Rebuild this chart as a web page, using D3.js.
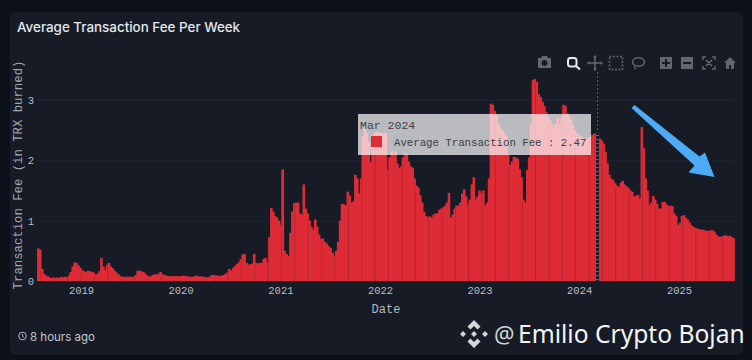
<!DOCTYPE html>
<html>
<head>
<meta charset="utf-8">
<title>Average Transaction Fee Per Week</title>
<script src="https://cdn.jsdelivr.net/npm/d3@7"></script>
<style>
    html, body { margin: 0; padding: 0; background: #0b1019; }
    svg { display: block; }
    .mono { font-family: "Liberation Mono", "DejaVu Sans Mono", monospace; }
    .sans { font-family: Inter, "Noto Sans", sans-serif; }
    .axis .domain { display: none; }
    .axis text { font-family: "Liberation Mono", monospace; font-size: 10.5px; fill: #bcbfc4; }
    .y-axis line { stroke: #1f2430; stroke-width: 1; }
    .x-axis line { display: none; }
</style>
</head>
<body>
<svg width="752" height="360"></svg>
<script>
// weekly values, one list per calendar year
const fee2018 = [.54,.52,.2,.12,.09,.08,.06,.05,.06,.05,.06,.05,.07,.06,.07,.06,.09,.15,.24,.31,.3,.26,.22];
const fee2019 = [.18,.16,.15,.17,.16,.15,.14,.1,.12,.16,.38,.24,.18,.27,.3,.24,.21,.17,.14,.11,.08,.07,.07,.07,.07,.07,.07,.07,.1,.17,.17,.16,.15,.12,.09,.07,.08,.1,.11,.11,.12,.15,.11,.1,.09,.08,.08,.08,.08,.08,.08,.08];
const fee2020 = [.08,.09,.08,.08,.07,.07,.07,.08,.09,.07,.08,.07,.07,.06,.06,.08,.1,.1,.09,.09,.08,.09,.1,.12,.14,.2,.17,.22,.25,.28,.31,.36,.44,.45,.3,.27,.28,.29,.45,.3,.29,.3,.3,.37,.38,.3,.73,1.21,1.15,1.08,1.05,1];
const fee2021 = [.93,1.85,.5,.45,.42,.8,1.15,1.29,1.3,1.3,1.12,1.1,1.6,1.2,1.12,1,.9,.85,1.02,.9,.77,.7,.7,.65,.62,.58,.55,.47,.42,.5,.65,1,1.28,1.27,1.25,1.48,1.42,1.3,1.32,1.76,1.7,1.45,1.7,2.4,2.58,2.45,2.3,1.97,2.4,2.45,2.47,2.47,2.46];
const fee2022 = [2.45,2.45,2.45,1.85,2.05,2.15,2.1,2.15,1.95,1.87,1.9,2.05,2.12,2.1,1.98,1.9,1.88,1.7,1.58,1.55,1.42,1.3,1.15,1.08,1.05,1.07,1.05,1.1,1.12,1.12,1.18,1.2,1.22,1.25,1.3,1.46,1.05,1.1,1.2,1.25,1.25,1.3,1.45,1.52,1.4,1.25,1.35,1.6,1.72,1.35,1.4,1.5];
const fee2023 = [1.45,1.5,1.25,1.3,1.7,2.94,2.92,2.82,2.75,2.6,2.55,2.5,2.45,2.4,2.1,1.92,1.98,2.06,2.05,2.03,1.85,1.72,1.35,1.3,1.84,2.05,2.6,3.33,3.35,3.3,3.1,3.05,2.97,2.9,2.8,2.72,2.67,2.6,2.56,2.6,2.7,2.6,2.72,2.92,2.9,2.78,2.72,2.67,2.58,2.5,2.45,2.42];
const fee2024 = [2.4,2.38,2.35,2.36,2.38,2.4,2.42,2.44,2.45,2.47,2.36,2.33,2.28,2.14,1.95,1.76,1.7,1.67,1.62,1.58,1.56,1.63,1.66,1.6,1.57,1.54,1.5,1.48,1.4,1.41,1.43,1.37,2.55,2.2,1.7,1.5,1.25,1.3,1.41,1.35,1.28,1.2,1.2,1.31,1.31,1.27,1.24,1.25,1.24,1.12,1.08,.93];
const fee2025 = [.96,1.08,1.09,1.05,1.02,.97,.92,.9,.88,.87,.86,.85,.85,.84,.83,.83,.84,.84,.82,.77,.74,.73,.74,.75,.76,.74,.75,.73,.71];

const yearTicks = [2019, 2020, 2021, 2022, 2023, 2024, 2025];
const feeTicks = [0, 1, 2, 3];
const firstWeek = new Date(2018, 6, 24);
const hoverLabel = 'Mar 2024';
const seriesName = 'Average Transaction Fee';

const fees = [].concat(fee2018, fee2019, fee2020, fee2021, fee2022, fee2023, fee2024, fee2025);
const data = fees.map((fee, i) => ({ date: d3.timeDay.offset(firstWeek, i * 7), fee }));
const hoverIndex = fee2018.length + fee2019.length + fee2020.length + fee2021.length
    + fee2022.length + fee2023.length + 9;

const svg = d3.select('svg');
const red = '#de2c37';

// card behind everything
svg.append('rect')
    .attr('x', 10).attr('y', 12)
    .attr('width', 733).attr('height', 343)
    .attr('rx', 6)
    .attr('fill', '#161b26');

svg.append('text')
    .attr('class', 'sans')
    .attr('x', 17).attr('y', 32)
    .attr('fill', '#e4e6ea')
    .attr('font-size', 13.4)
    .attr('font-weight', 500)
    .text('Average Transaction Fee Per Week');

const xScale = d3.scaleTime()
    .domain([new Date(2019, 0, 1), new Date(2025, 0, 1)])
    .range([81, 679]);

const yScale = d3.scaleLinear()
    .domain([0, 3])
    .range([281, 100]);

const barWidth = xScale(data[1].date) - xScale(data[0].date);

const yAxis = d3.axisLeft(yScale)
    .tickValues(feeTicks)
    .tickFormat(d3.format('d'))
    .tickSize(-698)
    .tickPadding(3);

svg.append('g')
    .attr('class', 'axis y-axis')
    .attr('transform', 'translate(37, 0)')
    .call(yAxis);

const xAxis = d3.axisBottom(xScale)
    .tickValues(yearTicks.map(y => new Date(y, 0, 1)))
    .tickFormat(d3.timeFormat('%Y'))
    .tickSize(0)
    .tickPadding(6);

svg.append('g')
    .attr('class', 'axis x-axis')
    .attr('transform', 'translate(0, 281)')
    .call(xAxis);

svg.selectAll('.bar').data(data)
    .enter().append('rect')
        .attr('class', 'bar')
        .attr('x', d => xScale(d.date))
        .attr('y', d => yScale(d.fee))
        .attr('width', barWidth + 0.7)
        .attr('height', d => yScale(0) - yScale(d.fee))
        .attr('fill', red);

// the darker seams that show up inside the bars
svg.selectAll('.seam').data(data.filter((d, i) => i % 7 === 2))
    .enter().append('line')
        .attr('class', 'seam')
        .attr('x1', d => xScale(d.date))
        .attr('x2', d => xScale(d.date))
        .attr('y1', d => yScale(d.fee) + 2)
        .attr('y2', yScale(0))
        .attr('stroke', '#b0272f')
        .attr('stroke-width', 0.9);

// hover spike
const hoverX = xScale(data[hoverIndex].date) + barWidth / 2;
svg.append('line')
    .attr('x1', hoverX).attr('x2', hoverX)
    .attr('y1', 72).attr('y2', yScale(data[hoverIndex].fee))
    .attr('stroke', '#555a64')
    .attr('stroke-width', 1.2)
    .attr('stroke-dasharray', '2,2');
svg.append('line')
    .attr('x1', hoverX).attr('x2', hoverX)
    .attr('y1', yScale(data[hoverIndex].fee)).attr('y2', yScale(0))
    .attr('stroke', '#1b1e2a')
    .attr('stroke-width', 3)
    .attr('stroke-dasharray', '3,1');

// axis titles
svg.append('text')
    .attr('class', 'mono')
    .attr('transform', 'translate(22, 175) rotate(-90)')
    .attr('text-anchor', 'middle')
    .attr('font-size', 12.3)
    .attr('fill', '#a4a7ad')
    .text('Transaction Fee (in TRX burned)');

svg.append('text')
    .attr('class', 'mono')
    .attr('x', 386).attr('y', 313)
    .attr('text-anchor', 'middle')
    .attr('font-size', 12)
    .attr('fill', '#b4b7bc')
    .text('Date');

// tooltip
svg.append('rect')
    .attr('x', 358).attr('y', 114)
    .attr('width', 233).attr('height', 41)
    .attr('fill', '#fff')
    .attr('fill-opacity', 0.7);
svg.append('text')
    .attr('class', 'mono')
    .attr('x', 360).attr('y', 129)
    .attr('font-size', 11.5)
    .attr('fill', '#3c4048')
    .text(hoverLabel);
svg.append('rect')
    .attr('x', 371).attr('y', 136)
    .attr('width', 11).attr('height', 11)
    .attr('fill', red);
svg.append('text')
    .attr('class', 'mono')
    .attr('x', 394).attr('y', 146)
    .attr('font-size', 10.7)
    .attr('fill', '#3c4048')
    .text(`${seriesName} : ${d3.format('.2f')(data[hoverIndex].fee)}`);

// modebar icons
const grey = '#62666e';
const modebar = svg.append('g');
// camera
modebar.append('path')
    .attr('d', 'M538 58h3l1-2h5l1 2h3v10h-13z M544.5 60a3 3 0 1 0 .01 0z')
    .attr('fill', grey).attr('fill-rule', 'evenodd');
// zoom
modebar.append('rect')
    .attr('x', 568).attr('y', 58).attr('width', 8.5).attr('height', 8.5).attr('rx', 2.5)
    .attr('fill', 'none').attr('stroke', '#e8e9ec').attr('stroke-width', 2);
modebar.append('line')
    .attr('x1', 576).attr('y1', 66).attr('x2', 580).attr('y2', 69.5)
    .attr('stroke', '#e8e9ec').attr('stroke-width', 2.2);
// pan
modebar.append('path')
    .attr('d', 'M595 56v14 M588 63h14')
    .attr('stroke', grey).attr('stroke-width', 1.6).attr('fill', 'none');
modebar.append('path')
    .attr('d', 'M595 55l2 2.5h-4z M595 71l2-2.5h-4z M587 63l2.5-2v4z M603 63l-2.5-2v4z')
    .attr('fill', grey);
// box select
modebar.append('rect')
    .attr('x', 609.5).attr('y', 56.5).attr('width', 13).attr('height', 13)
    .attr('fill', 'none').attr('stroke', grey).attr('stroke-width', 1.5).attr('stroke-dasharray', '2,1.5');
// lasso
modebar.append('ellipse')
    .attr('cx', 638.5).attr('cy', 62).attr('rx', 6).attr('ry', 4.2)
    .attr('fill', 'none').attr('stroke', grey).attr('stroke-width', 1.4);
modebar.append('path')
    .attr('d', 'M635 65.5c-1 2 -.5 3 1 3.5')
    .attr('fill', 'none').attr('stroke', grey).attr('stroke-width', 1.2);
// plus, minus
modebar.append('path')
    .attr('d', 'M660 57h12v12h-12z M665 59v3h-3v2h3v3h2v-3h3v-2h-3v-3z')
    .attr('fill', grey).attr('fill-rule', 'evenodd');
modebar.append('path')
    .attr('d', 'M681 57h12v12h-12z M683 62v2h8v-2z')
    .attr('fill', grey).attr('fill-rule', 'evenodd');
// autoscale
modebar.append('path')
    .attr('d', 'M703 60v-3h3 M712 57h3v3 M715 66v3h-3 M706 69h-3v-3 M706 60l6 6 M712 60l-6 6')
    .attr('fill', 'none').attr('stroke', grey).attr('stroke-width', 1.5);
// home
modebar.append('path')
    .attr('d', 'M724 63l6-6 6 6h-2v6h-3v-4h-2v4h-3v-6z')
    .attr('fill', grey);

// blue arrow drawn on top of the screenshot
svg.append('polygon')
    .attr('points', '631.5,108 634.5,105 699.5,156.5 705,152.5 714.5,177 688.5,172.5 694.5,165.5')
    .attr('fill', '#4dabf5');

// footer
svg.append('circle')
    .attr('cx', 22.5).attr('cy', 336).attr('r', 3.8)
    .attr('fill', 'none').attr('stroke', '#b9bcc2').attr('stroke-width', 1);
svg.append('path')
    .attr('d', 'M22.5 334v2.3l1.6 1')
    .attr('fill', 'none').attr('stroke', '#b9bcc2').attr('stroke-width', 0.9);
svg.append('text')
    .attr('class', 'sans')
    .attr('x', 30).attr('y', 340.5)
    .attr('font-size', 11.5)
    .attr('fill', '#c4c7cc')
    .text('8 hours ago');

// watermark
const logo = svg.append('g')
    .attr('transform', 'translate(474, 334)')
    .attr('fill', '#d6d6d6');
logo.append('path')
    .attr('d', 'M0-14l6.5 6.5-3 3L0-8l-3.5 3.5-3-3z M0 14l6.5-6.5-3-3L0 8l-3.5-3.5-3 3z M-14 0l3-3 3 3-3 3z M14 0l-3-3-3 3 3 3z M0-3l3 3-3 3-3-3z');
svg.append('text')
    .attr('x', 494).attr('y', 343)
    .attr('font-family', '"Noto Sans", sans-serif')
    .attr('font-size', 22.8)
    .attr('fill', '#d2d3d5')
    .text('@');
svg.append('text')
    .attr('x', 518).attr('y', 343)
    .attr('font-family', '"Noto Sans", sans-serif')
    .attr('font-size', 24.6)
    .attr('fill', '#f4f4f5')
    .text('Emilio Crypto Bojan');
</script>
</body>
</html>
